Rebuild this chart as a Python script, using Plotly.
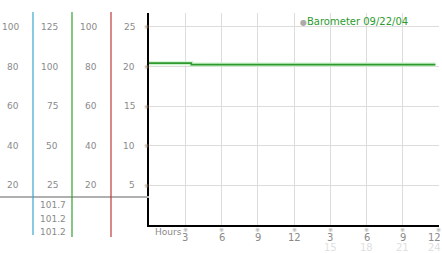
import plotly.graph_objects as go

# ---- data ----
hours = [0, 3.5, 23.7]
pressure = [20.42, 20.24, 20.24]
x_ticks = [3, 6, 9, 12, 15, 18, 21, 24]
x_tick_labels = ["3", "6", "9", "12", "3", "6", "9", "12"]
x_day_labels = ["", "", "", "", "15", "18", "21", "24"]
y_ticks = [5, 10, 15, 20, 25]
col1 = [20, 40, 60, 80, 100]
col2 = [25, 50, 75, 100, 125]
col3 = [20, 40, 60, 80, 100]
readings = ["101.7", "101.2", "101.2"]
legend_label = "Barometer 09/22/04"

W, H = 442, 253
L, R, T, B = 149, 3, 13, 28
PW, PH = W - L - R, H - T - B


def px(p):
    return (p - L) / PW


def py(p):
    return (H - B - p) / PH


FONT = "DejaVu Sans"
GRAY = "#8a8a8a"

fig = go.Figure()
fig.add_trace(go.Scatter(x=hours, y=pressure, mode="lines", line_shape="hv",
                         line=dict(color="#ccf2cc", width=4), hoverinfo="skip",
                         showlegend=False))
fig.add_trace(go.Scatter(x=hours, y=pressure, mode="lines", line_shape="hv",
                         line=dict(color="#2e9a2e", width=1.6), showlegend=False))

ann = []
mark = "※"


def a(**kw):
    kw.setdefault("showarrow", False)
    kw.setdefault("yanchor", "middle")
    kw.setdefault("xanchor", "center")
    ann.append(kw)


for v in y_ticks:
    a(x=px(137), xref="paper", y=v, yref="y", text=str(v), xanchor="right",
      font=dict(family=FONT, size=9, color=GRAY))
    a(x=px(146), xref="paper", y=v, yref="y", text=mark,
      font=dict(family=FONT, size=6, color="#999"))
for v in col1:
    a(x=px(21), xref="paper", y=v * 25 / 100, yref="y", text=str(v), xanchor="right",
      font=dict(family=FONT, size=9, color=GRAY))
for v in col2:
    a(x=px(60), xref="paper", y=v * 25 / 125, yref="y", text=str(v), xanchor="right",
      font=dict(family=FONT, size=9, color=GRAY))
for v in col3:
    a(x=px(99), xref="paper", y=v * 25 / 100, yref="y", text=str(v), xanchor="right",
      font=dict(family=FONT, size=9, color=GRAY))
for i, r in enumerate(readings):
    a(x=px(53), xref="paper", y=py(205 + 13.5 * i), yref="paper", text=r,
      font=dict(family=FONT, size=9, color=GRAY))
for k, (xv, t, d) in enumerate(zip(x_ticks, x_tick_labels, x_day_labels)):
    last = k == len(x_ticks) - 1
    anc = "right" if last else "center"
    sh = 4 if last else 0
    a(x=xv, xref="x", y=py(229), yref="paper", text=mark, xshift=-1 if last else 0,
      font=dict(family=FONT, size=6, color="#999"))
    a(x=xv, xref="x", y=py(237), yref="paper", text=t, xanchor=anc, xshift=sh,
      font=dict(family=FONT, size=10, color=GRAY))
    if d:
        a(x=xv, xref="x", y=py(247), yref="paper", text=d, xanchor=anc, xshift=sh,
          font=dict(family=FONT, size=10, color="#e0e0e0"))
a(x=px(153), xref="paper", y=py(232), yref="paper", text="Hours", xanchor="left",
  font=dict(family=FONT, size=9, color=GRAY))
a(x=px(298), xref="paper", y=py(21), yref="paper",
  text="<span style='color:#aaa;font-size:8px'>●</span>" + legend_label, xanchor="left",
  font=dict(family=FONT, size=10, color="#2e9a2e"))

shapes = [
    dict(type="line", xref="paper", yref="paper", x0=px(0), x1=px(149), y0=py(197), y1=py(197),
         line=dict(color="#b0b0b0", width=2)),
    dict(type="line", xref="paper", yref="paper", x0=px(33), x1=px(33), y0=py(12), y1=py(235),
         line=dict(color="#3aa6d0", width=1.2)),
    dict(type="line", xref="paper", yref="paper", x0=px(72), x1=px(72), y0=py(12), y1=py(237),
         line=dict(color="#35a035", width=1.2)),
    dict(type="line", xref="paper", yref="paper", x0=px(111), x1=px(111), y0=py(12), y1=py(237),
         line=dict(color="#c03a3a", width=1.2)),
]

fig.update_layout(
    width=W, height=H, margin=dict(l=L, r=R, t=T, b=B),
    paper_bgcolor="white", plot_bgcolor="white",
    annotations=ann, shapes=shapes,
    xaxis=dict(range=[0, 24], tickvals=x_ticks, showticklabels=False, ticks="",
               showgrid=True, gridcolor="#dcdcdc", gridwidth=1, zeroline=False,
               showline=True, linecolor="black", linewidth=2, fixedrange=True),
    yaxis=dict(range=[0, 26.75], tickvals=y_ticks, showticklabels=False, ticks="",
               showgrid=True, gridcolor="#dcdcdc", gridwidth=1, zeroline=False,
               showline=True, linecolor="black", linewidth=2, fixedrange=True),
)

fig.write_html("out.html")
